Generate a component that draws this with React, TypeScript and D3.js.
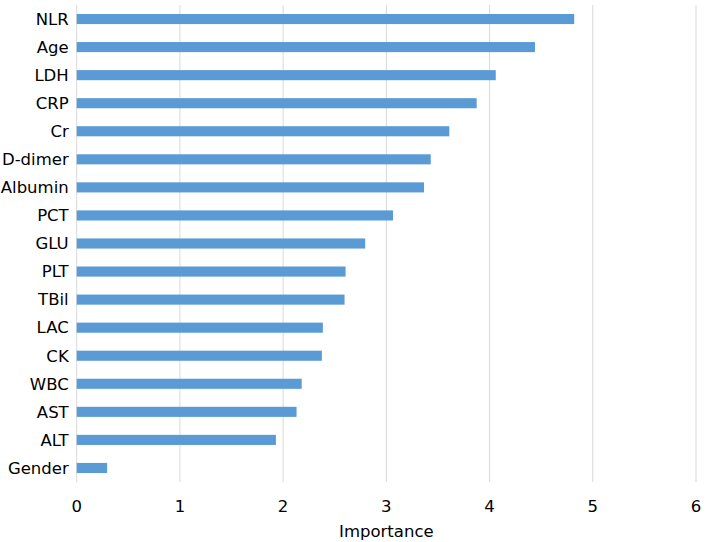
import * as d3 from "d3"
import React, { useEffect, useRef } from "react"

const features = [
    "NLR", "Age", "LDH", "CRP", "Cr", "D-dimer", "Albumin", "PCT", "GLU",
    "PLT", "TBil", "LAC", "CK", "WBC", "AST", "ALT", "Gender",
]
const importance = [
    4.82, 4.44, 4.06, 3.875, 3.61, 3.43, 3.365, 3.065, 2.795,
    2.605, 2.595, 2.385, 2.375, 2.18, 2.13, 1.93, 0.295,
]
const xTicks = [0, 1, 2, 3, 4, 5, 6]
const xLabel = "Importance"

const width = 707
const height = 542
const margins = { left: 76.7, right: 11, top: 5, bottom: 60 }
const font = "'DejaVu Sans', Verdana, sans-serif"
const fontSize = 16.5

const App = () => {
    const refSvg = useRef<SVGSVGElement>(null)

    useEffect(() => {
        const svg = d3.select(refSvg.current)
        svg.selectAll("*").remove()

        const plotW = width - margins.left - margins.right
        const plotH = height - margins.top - margins.bottom

        const scaleX = d3.scaleLinear().domain([0, 6]).range([0, plotW])
        const scaleY = d3.scaleBand()
            .domain(features)
            .range([0, plotH])
            .paddingInner(0.64)
            .paddingOuter(0.32)

        const gPlot = svg.append("g")
            .attr("transform", `translate(${margins.left}, ${margins.top})`)

        // vertical gridlines
        gPlot.selectAll(".grid")
            .data(xTicks)
            .join("line")
            .attr("class", "grid")
            .attr("x1", d => scaleX(d))
            .attr("x2", d => scaleX(d))
            .attr("y1", 0)
            .attr("y2", plotH)
            .attr("stroke", "#d9d9d9")
            .attr("stroke-width", 1)

        // bars
        gPlot.selectAll(".bar")
            .data(features)
            .join("rect")
            .attr("class", "bar")
            .attr("x", 0)
            .attr("y", d => scaleY(d) as number)
            .attr("width", (d, i) => scaleX(importance[i]))
            .attr("height", scaleY.bandwidth())
            .attr("fill", "#5b9bd5")

        // category labels
        gPlot.selectAll(".cat")
            .data(features)
            .join("text")
            .attr("class", "cat")
            .attr("x", -8)
            .attr("y", d => (scaleY(d) as number) + scaleY.bandwidth() / 2)
            .attr("dy", "0.35em")
            .attr("text-anchor", "end")
            .attr("font-family", font)
            .attr("font-size", fontSize)
            .attr("fill", "#000")
            .text(d => d)

        // x tick labels
        gPlot.selectAll(".tick-label")
            .data(xTicks)
            .join("text")
            .attr("class", "tick-label")
            .attr("x", d => scaleX(d))
            .attr("y", plotH + 30)
            .attr("text-anchor", "middle")
            .attr("font-family", font)
            .attr("font-size", fontSize)
            .attr("fill", "#000")
            .text(d => d)

        // axis title
        gPlot.append("text")
            .attr("x", plotW / 2)
            .attr("y", plotH + 55)
            .attr("text-anchor", "middle")
            .attr("font-family", font)
            .attr("font-size", fontSize)
            .attr("fill", "#000")
            .text(xLabel)
    }, [])

    return (
        <svg
            ref={refSvg}
            width={width}
            height={height}
            style={{ position: "absolute", left: 0, top: 0, background: "#fff" }}
        />
    )
}

export default App
